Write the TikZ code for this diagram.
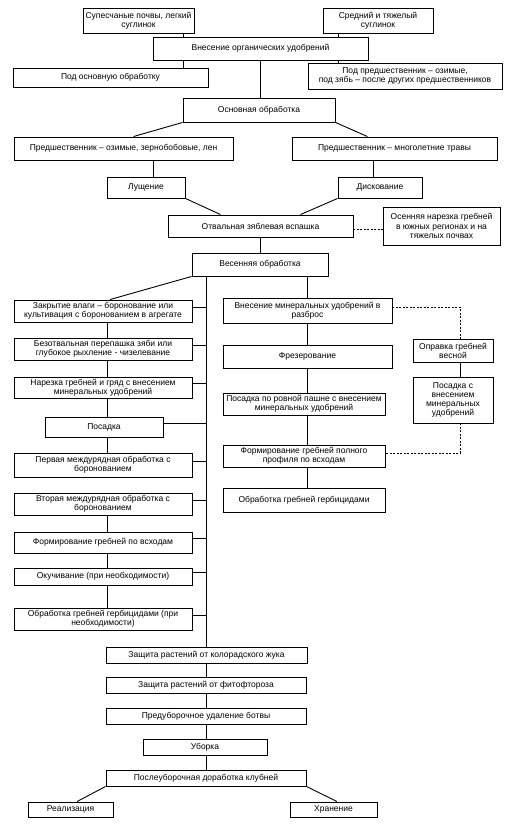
\documentclass[tikz,border=0pt]{standalone}
\usepackage{fontspec}
\setmainfont{Liberation Sans}
\tikzset{
  box/.style={draw, line width=0.9pt, inner sep=0.5pt, align=center, font=\fontsize{8.5}{9.2}\selectfont},
  ln/.style={line width=0.9pt},
  dsh/.style={line width=0.6pt, dash pattern=on 2pt off 1.5pt},
}
\newcommand{\bx}[6]{\node[box, minimum width={(#4-#2)*1pt}, minimum height={(#5-#3)*1pt}] (#1) at ({(#2+#4)/2},{(#3+#5)/2}) {#6};}
\begin{document}
\begin{tikzpicture}[x=1pt,y=-1pt]
\fill[white] (0,0) rectangle (508,826);
\useasboundingbox (0,0) rectangle (508,826);
% top
\bx{A}{83}{8}{194}{33}{Супесчаные почвы, легкий\\суглинок}
\bx{B}{323}{8}{433}{33}{Средний и тяжелый\\суглинок}
\bx{C}{153}{37}{368}{60}{Внесение органических удобрений}
\bx{D}{13}{68}{208}{87}{Под основную обработку}
\bx{E}{308}{63}{502}{89}{Под предшественник – озимые,\\под зябь – после других предшественников}
\bx{F}{183}{98}{335}{122}{Основная обработка}
\bx{G}{14}{137}{233}{160}{Предшественник – озимые, зернобобовые, лен}
\bx{H}{292}{137}{497}{160}{Предшественник – многолетние травы}
\bx{I}{107}{177}{185}{198}{Лущение}
\bx{J}{338}{177}{422}{198}{Дискование}
\bx{K}{168}{215}{353}{237}{Отвальная зяблевая вспашка}
\bx{L}{383}{207}{500}{245}{Осенняя нарезка гребней\\в южных регионах и на\\тяжелых почвах}
\bx{M}{192}{253}{328}{276}{Весенняя обработка}
% left column
\bx{N}{14}{300}{192}{322}{Закрытие влаги – боронование или\\культивация с боронованием в агрегате}
\bx{O}{14}{338}{192}{360}{Безотвальная перепашка зяби или\\глубокое рыхление - чизелевание}
\bx{P}{14}{377}{192}{398}{Нарезка гребней и гряд с внесением\\минеральных удобрений}
\bx{X}{45}{417}{163}{437}{Посадка}
\bx{Y}{14}{453}{192}{477}{Первая междурядная обработка с\\боронованием}
\bx{Z}{14}{493}{192}{515}{Вторая междурядная обработка с\\боронованием}
\bx{AA}{14}{532}{192}{553}{Формирование гребней по всходам}
\bx{AB}{14}{568}{192}{585}{Окучивание (при необходимости)}
\bx{AC}{14}{608}{192}{630}{Обработка гребней гербицидами (при\\необходимости)}
% right column
\bx{Q}{223}{298}{392}{323}{Внесение минеральных удобрений в\\разброс}
\bx{R}{223}{345}{392}{368}{Фрезерование}
\bx{S}{223}{393}{385}{415}{Посадка по ровной пашне с внесением\\минеральных удобрений}
\bx{T}{223}{445}{385}{467}{Формирование гребней полного\\профиля по всходам}
\bx{U}{223}{488}{385}{512}{Обработка гребней гербицидами}
\bx{V}{413}{339}{493}{362}{Оправка гребней\\весной}
\bx{W}{413}{377}{493}{423}{Посадка с\\внесением\\минеральных\\удобрений}
% bottom
\bx{AD}{106}{647}{307}{663}{Защита растений от колорадского жука}
\bx{AE}{106}{677}{306}{693}{Защита растений от фитофтороза}
\bx{AF}{106}{708}{306}{724}{Предуборочное удаление ботвы}
\bx{AG}{143}{739}{267}{755}{Уборка}
\bx{AH}{106}{770}{306}{786}{Послеуборочная доработка клубней}
\bx{AI}{28}{802}{113}{817}{Реализация}
\bx{AJ}{290}{802}{377}{817}{Хранение}
% reference x positions
\coordinate (xa) at (183,0);
\coordinate (xb) at (338,0);
\coordinate (tr) at (206,0);
\coordinate (rc) at (307,0);
\coordinate (lc) at (107,0);
\coordinate (dx) at (460,0);
% top connectors
\draw[ln] (A.south -| xa) -- (C.north -| xa);
\draw[ln] (C.south -| xa) -- (D.north -| xa);
\draw[ln] (B.south -| xb) -- (C.north -| xb);
\draw[ln] (C.south -| xb) -- (E.north -| xb);
\draw[ln] (C.south) -- (C.south |- F.north);
\draw[ln] (F.south west) -- ([xshift=10pt]G.north);
\draw[ln] (F.south east) -- ([xshift=-27pt]H.north);
\draw[ln] ([xshift=7pt]I.north) -- ([xshift=7pt]I.north |- G.south);
\draw[ln] ([xshift=-7pt]J.north) -- ([xshift=-7pt]J.north |- H.south);
\draw[ln] (I.south east) -- ([xshift=-40pt]K.north);
\draw[ln] (J.south west) -- ([xshift=40pt]K.north);
\draw[ln] (K.south) -- (K.south |- M.north);
\draw[dsh] ([yshift=-3pt]K.east) -- ([yshift=-3pt]K.east -| L.west);
\draw[ln] (M.south west) -- ([xshift=7pt]N.north);
% trunk
\draw[ln] (M.south -| tr) -- (AD.north -| tr);
\foreach \b in {N,O,P,X,Y,Z,AA,AB,AC}
  \draw[ln] ([yshift=4pt]\b.east) -- ([yshift=4pt]\b.east -| tr);
% left column verticals
\draw[ln] (N.south -| lc) -- (O.north -| lc);
\draw[ln] (O.south -| lc) -- (P.north -| lc);
\draw[ln] (P.south -| lc) -- (X.north -| lc);
\draw[ln] (X.south -| lc) -- (Y.north -| lc);
\draw[ln] (Z.south -| lc) -- (AA.north -| lc);
\draw[ln] (AA.south -| lc) -- (AB.north -| lc);
\draw[ln] (AB.south -| lc) -- (AC.north -| lc);
% right column
\draw[ln] (M.south -| rc) -- (Q.north -| rc);
\draw[ln] (Q.south -| rc) -- (R.north -| rc);
\draw[ln] (R.south -| rc) -- (S.north -| rc);
\draw[ln] (S.south -| rc) -- (T.north -| rc);
\draw[ln] (T.south -| rc) -- (U.north -| rc);
\draw[dsh] ([yshift=3.5pt]Q.east) -- ([yshift=3.5pt]Q.east -| dx) -- (V.north -| dx);
\draw[ln] (V.south -| dx) -- (W.north -| dx);
\draw[dsh] (W.south -| dx) -- ([yshift=3pt]T.east -| dx) -- ([yshift=3pt]T.east);
% bottom
\draw[ln] (AD.south -| tr) -- (AE.north -| tr);
\draw[ln] (AE.south -| tr) -- (AF.north -| tr);
\draw[ln] (AF.south -| tr) -- (AG.north -| tr);
\draw[ln] (AG.south -| tr) -- (AH.north -| tr);
\draw[ln] (AH.south west) -- ([xshift=6.5pt]AI.north);
\draw[ln] (AH.south east) -- ([xshift=3.5pt]AJ.north);
\end{tikzpicture}
\end{document}
